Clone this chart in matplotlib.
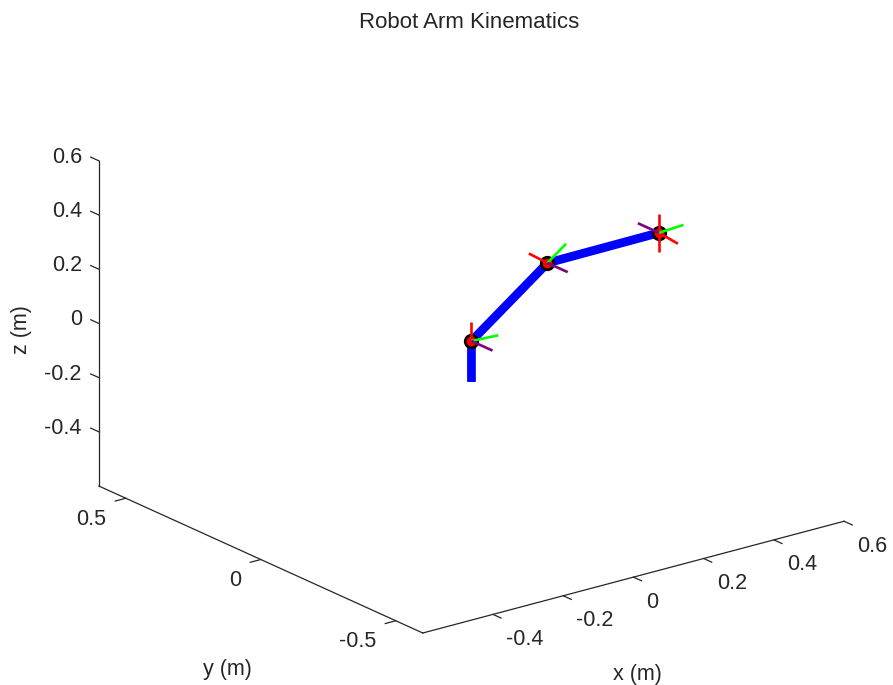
import numpy as np
import matplotlib
matplotlib.use('Agg')
import matplotlib.pyplot as plt
from mpl_toolkits.mplot3d import proj3d

plt.rcParams['font.family'] = ['Liberation Sans', 'DejaVu Sans']

# arm points, base first (metres, arm taken in the y=0 plane)
arm_x = [0.0, 0.0, 0.2165, 0.534]
arm_y = [0.0, 0.0, 0.0, 0.0]
arm_z = [-0.151, 0.0, 0.2137, 0.216]
joints = [1, 2, 3]

# frame segments: index into arm points, then offset to the tip
red_segs = [(1, 0, 0, 0.072), (2, -0.053, 0, 0.053), (3, 0, 0, 0.07),
            (3, 0, 0, -0.07), (3, 0.054, 0, -0.059)]
green_segs = [(1, 0.076, 0, -0.005), (2, 0.053, 0, 0.053), (3, 0.07, 0, 0.005)]
purple_segs = [(1, 0, -0.078, 0), (2, 0, -0.075, 0), (3, 0, 0.078, 0)]

x_ticks = [-0.4, -0.2, 0, 0.2, 0.4, 0.6]
y_ticks = [-0.5, 0, 0.5]
z_ticks = [-0.4, -0.2, 0, 0.2, 0.4, 0.6]
lim = 0.6
tick_len = 0.03
ink = '#262626'
fs = 15.5


def draw_segs(ax, segs, color):
    for i, dx, dy, dz in segs:
        ax.plot([arm_x[i], arm_x[i] + dx], [arm_y[i], arm_y[i] + dy],
                [arm_z[i], arm_z[i] + dz], color=color, lw=1.9,
                solid_capstyle='butt', zorder=5)


def put_text(ax, x, y, z, s, off=(0, 0), **kw):
    # 3d point to the flat axes coordinates, then a shift in pixels
    x2, y2, _ = proj3d.proj_transform(x, y, z, ax.get_proj())
    ax.annotate(s, xy=(x2, y2), xytext=off, textcoords='offset pixels',
                fontsize=fs, color=ink, va='center', annotation_clip=False, **kw)


# axes rect is bigger than the figure on purpose, it holds the ortho view at scale
fig = plt.figure(figsize=(8.93, 6.85), dpi=100, facecolor='white')
ax = fig.add_axes([58.6 / 893, -68.9 / 685, 804 / 893, 804 / 685],
                  projection='3d', proj_type='ortho', computed_zorder=False)
ax.view_init(elev=20.3, azim=-127.4)
ax.set_box_aspect((530, 533, 346.5))
ax.set_xlim(-lim, lim, view_margin=0)
ax.set_ylim(-lim, lim, view_margin=0)
ax.set_zlim(-lim, lim, view_margin=0)

# the three box edges
ax.plot([-lim, lim], [-lim, -lim], [-lim, -lim], color=ink, lw=0.9, zorder=1)
ax.plot([-lim, -lim], [-lim, lim], [-lim, -lim], color=ink, lw=0.9, zorder=1)
ax.plot([-lim, -lim], [lim, lim], [-lim, lim], color=ink, lw=0.9, zorder=1)

for t in x_ticks:
    ax.plot([t, t], [-lim, -lim - tick_len], [-lim, -lim], color=ink, lw=0.9, zorder=1)
    put_text(ax, t, -lim, -lim, '%g' % t, off=(13, -25), ha='left')
for t in y_ticks:
    ax.plot([-lim, -lim - tick_len], [t, t], [-lim, -lim], color=ink, lw=0.9, zorder=1)
    put_text(ax, -lim, t, -lim, '%g' % t, off=(-20, -21), ha='right')
for t in z_ticks:
    ax.plot([-lim, -lim], [lim, lim + tick_len], [t, t], color=ink, lw=0.9, zorder=1)
    put_text(ax, -lim, lim, t, '%g' % t, off=(-17, 3.5), ha='right')

put_text(ax, 0.01, -lim, -0.962, 'x (m)', ha='center')
put_text(ax, -lim, 0.122, -1.06, 'y (m)', ha='center')
put_text(ax, -lim, 0.885, -0.15, 'z (m)', ha='center', rotation=90)

ax.plot(arm_x, arm_y, arm_z, color='#0000ff', lw=6.3, solid_capstyle='butt',
        solid_joinstyle='round', zorder=3)
ax.plot([arm_x[i] for i in joints], [arm_y[i] for i in joints],
        [arm_z[i] for i in joints], ls='none', marker='o', ms=9, mew=2,
        mfc='#ff0000', mec='black', zorder=4)
draw_segs(ax, red_segs, '#ff0000')
draw_segs(ax, green_segs, '#00ff00')
draw_segs(ax, purple_segs, '#800080')

ax.set_axis_off()

fig.text(469 / 893, 1 - 23 / 685, 'Robot Arm Kinematics', fontsize=16, color=ink,
         ha='center', va='center')

fig.savefig('out.png', dpi=100)
